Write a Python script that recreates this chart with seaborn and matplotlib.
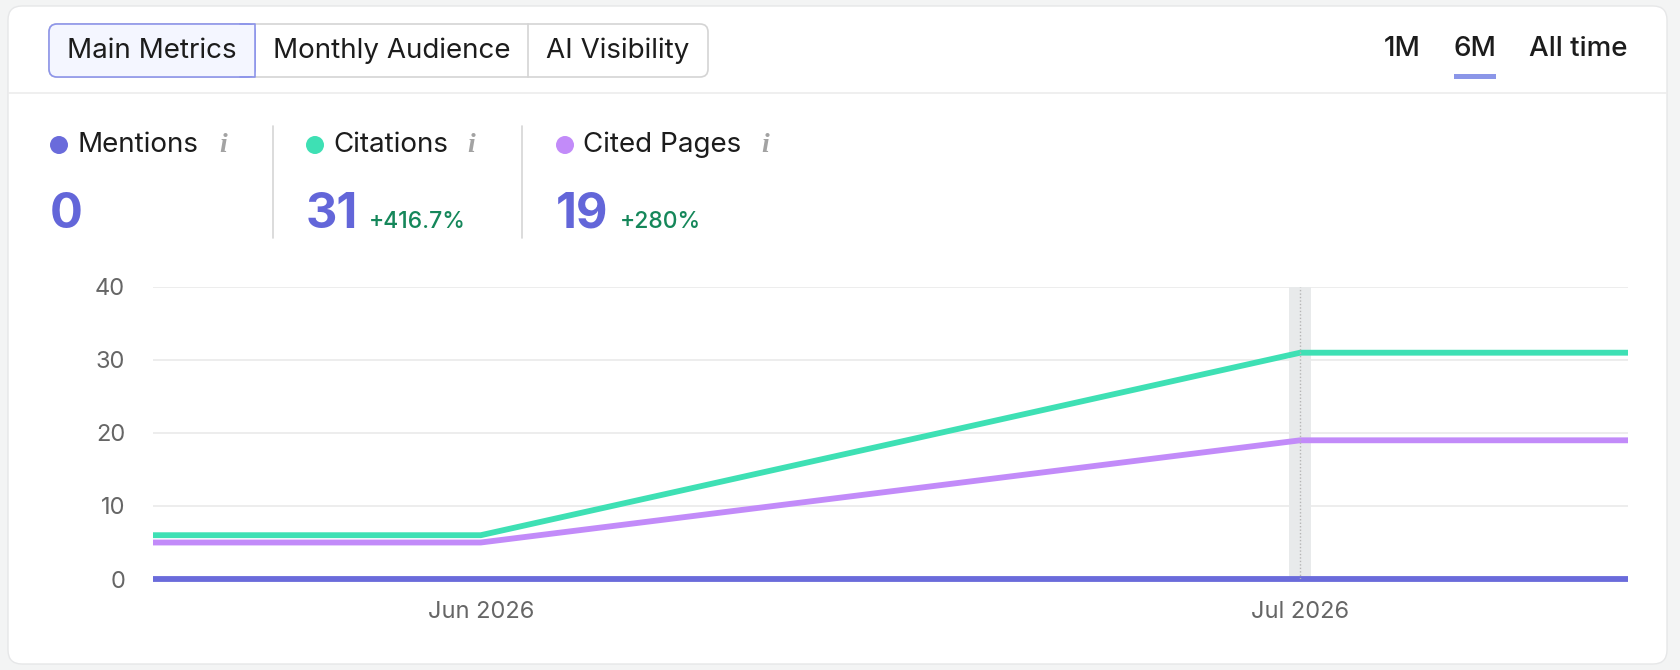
import numpy as np
import pandas as pd
import matplotlib.pyplot as plt
from matplotlib.patches import FancyBboxPatch, Rectangle, Circle
import seaborn as sns

# data
dates = ["2026-05-20", "2026-06-01", "2026-07-01", "2026-07-13"]
mentions = [0, 0, 0, 0]
citations = [6, 6, 31, 31]
cited_pages = [5, 5, 19, 19]

series_names = ["Mentions", "Citations", "Cited Pages"]
series_colors = ["#6a6bdb", "#3ee0b4", "#c28bf9"]
summary_values = ["0", "31", "19"]
summary_changes = ["", "+416.7%", "+280%"]

tabs = ["Main Metrics", "Monthly Audience", "AI Visibility"]
ranges = ["1M", "6M", "All time"]
y_ticks = [0, 10, 20, 30, 40]
x_ticks = ["2026-06-01", "2026-07-01"]
x_ticklabels = ["Jun 2026", "Jul 2026"]
highlight_date = "2026-07-01"

W, H = 1680, 670
sns.set_theme(style="white")
plt.rcParams['font.family'] = ['Inter', 'DejaVu Sans']

fig = plt.figure(figsize=(W / 100, H / 100), dpi=100)
fig.patch.set_facecolor("#f3f4f4")

# overlay in pixel coordinates for the card / header widgets
ov = fig.add_axes([0, 0, 1, 1])
ov.set_xlim(0, W)
ov.set_ylim(H, 0)
ov.axis("off")

ov.add_patch(FancyBboxPatch((8, 6), 1659, 658, boxstyle="round,pad=0,rounding_size=14",
                            facecolor="white", edgecolor="#e6e7e8", linewidth=1))
ov.plot([8, 1667], [93, 93], color="#ececec", lw=1.2)

# tab group
ov.add_patch(FancyBboxPatch((49, 24), 659, 53, boxstyle="round,pad=0,rounding_size=8",
                            facecolor="white", edgecolor="#d4d4d4", linewidth=1.2))
ov.add_patch(FancyBboxPatch((49, 24), 206, 53, boxstyle="round,pad=0,rounding_size=8",
                            facecolor="#f4f6ff", edgecolor="#8d95ea", linewidth=1.2, zorder=3))
ov.add_patch(Rectangle((240, 24.6), 14.5, 51.8, facecolor="#f4f6ff", edgecolor="none", zorder=4))
ov.plot([240, 255, 255, 240], [24, 24, 77, 77], color="#8d95ea", lw=1.2, zorder=5)
ov.plot([528, 528], [24, 77], color="#d4d4d4", lw=1.2)
for label, cx in zip(tabs, [152, 392, 618]):
    ov.text(cx, 51, label, ha="center", va="center", fontsize=20, color="#1c1c1c")

# range selector
for label, cx in zip(ranges, [1402, 1475, 1578]):
    ov.text(cx, 49, label, ha="center", va="center", fontsize=20, color="#1c1c1c",
            fontweight="medium")
ov.add_patch(Rectangle((1454, 74), 42, 5, facecolor="#8b96e8", edgecolor="none"))

# metric summaries
dot_x = [59, 315, 565]
info_x = [223, 471, 765]
for name, col, val, chg, dx, ix in zip(series_names, series_colors, summary_values,
                                       summary_changes, dot_x, info_x):
    ov.add_patch(Circle((dx, 145), 9, facecolor=col, edgecolor="none"))
    ov.text(dx + 18, 145, name, ha="left", va="center", fontsize=20, color="#1c1c1c")
    ov.text(ix, 145, "i", ha="center", va="center", fontsize=20, color="#a3a3a3",
            family=["Liberation Serif"], fontstyle="italic", fontweight="bold")
    t = ov.text(dx - 9, 228, val, ha="left", va="baseline", fontsize=35, color="#6366d9",
                fontweight="bold")
    if chg:
        fig.canvas.draw()
        bb = t.get_window_extent()
        ov.text(bb.x1 + 11, 228, chg, ha="left", va="baseline", fontsize=16.5,
                color="#15875a", fontweight="medium")
for sx in [273, 522]:
    ov.plot([sx, sx], [126, 238], color="#d6d6d6", lw=1.2)

# chart
df = pd.DataFrame({
    "date": pd.to_datetime(dates * 3),
    "value": mentions + citations + cited_pages,
    "metric": np.repeat(series_names, len(dates)),
})

ax = fig.add_axes([153 / W, 1 - 579 / H, (1628 - 153) / W, (579 - 287) / H])
ax.patch.set_alpha(0)
hd = pd.Timestamp(highlight_date)
ax.axvspan(hd - pd.Timedelta(hours=9.5), hd + pd.Timedelta(hours=9.5),
           color="#e8eaeb", zorder=0.5, lw=0)
for yv in y_ticks[1:]:
    ax.axhline(yv, color="#ececec", lw=1.3, zorder=0.4)

sns.lineplot(data=df, x="date", y="value", hue="metric", hue_order=series_names,
             palette=series_colors, linewidth=4.2, legend=False, ax=ax, zorder=2,
             clip_on=False, solid_capstyle="butt")
ax.axvline(hd, color="#b5b5b5", lw=1, ls=(0, (1, 1.5)), zorder=3)

ax.set_xlim(pd.Timestamp(dates[0]), pd.Timestamp(dates[-1]))
ax.set_ylim(0, 40)
ax.set_yticks(y_ticks)
ax.set_xticks(pd.to_datetime(x_ticks))
ax.set_xticklabels(x_ticklabels)
ax.tick_params(axis="y", length=0, pad=20, labelsize=17, labelcolor="#666666")
ax.tick_params(axis="x", length=0, pad=16, labelsize=17, labelcolor="#666666")
ax.set_xlabel("")
ax.set_ylabel("")
for s in ax.spines.values():
    s.set_visible(False)

fig.savefig("out.png", dpi=100, facecolor=fig.get_facecolor())
